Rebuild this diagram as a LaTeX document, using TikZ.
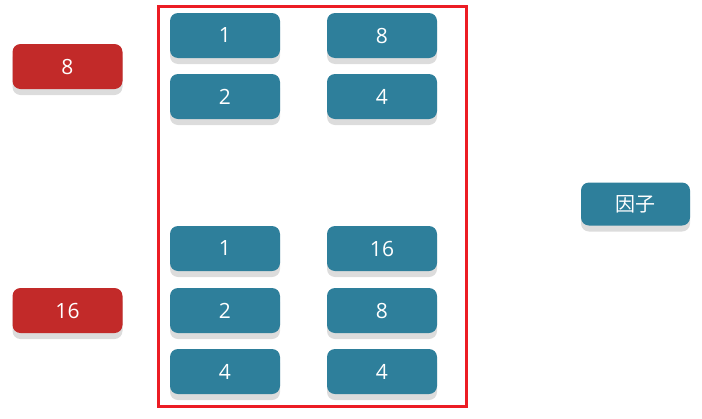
\documentclass[tikz,border=0pt]{standalone}
\usepackage{fontspec}
\setmainfont{Open Sans}
\newfontfamily\cjk{Noto Sans CJK SC}
\usetikzlibrary{shadows}
\definecolor{tealbox}{HTML}{2E7F9B}
\definecolor{redbox}{HTML}{C22A29}
\definecolor{framered}{HTML}{EC1C24}
\definecolor{shade}{HTML}{DCDCDC}
\tikzset{
  card/.style={rounded corners=8pt, minimum width=110pt, minimum height=45pt, inner sep=0pt,
    text=white, font=\fontsize{21}{25}\selectfont,
    general shadow={fill=shade, shadow yshift=-6pt}},
  tcard/.style={card, fill=tealbox},
  rcard/.style={card, fill=redbox},
  frame/.style={draw=framered, line width=2.8pt}
}
\begin{document}
\begin{tikzpicture}[x=1pt,y=-1pt]
\useasboundingbox (0,0) rectangle (702,418);
\draw[frame] (158.5,6.2) rectangle (466.5,406.8);
\node[rcard] (r8) at (67.5,66.5) {8};
\node[rcard] (r16) at (67.5,310.5) {16};
\node[tcard] (a1) at (225,35.5) {1};
\node[tcard] (b1) at (382,35.5) {8};
\node[tcard] (a2) at (225,96.5) {2};
\node[tcard] (b2) at (382,96.5) {4};
\node[tcard] (a3) at (225,248.5) {1};
\node[tcard] (b3) at (382,248.5) {16};
\node[tcard] (a4) at (225,310.5) {2};
\node[tcard] (b4) at (382,310.5) {8};
\node[tcard] (a5) at (225,371.5) {4};
\node[tcard] (b5) at (382,371.5) {4};
\node[tcard, minimum width=109pt, minimum height=43pt, font=\cjk\fontsize{20}{24}\selectfont] (yz) at (635.5,204) {因子};
\end{tikzpicture}
\end{document}
